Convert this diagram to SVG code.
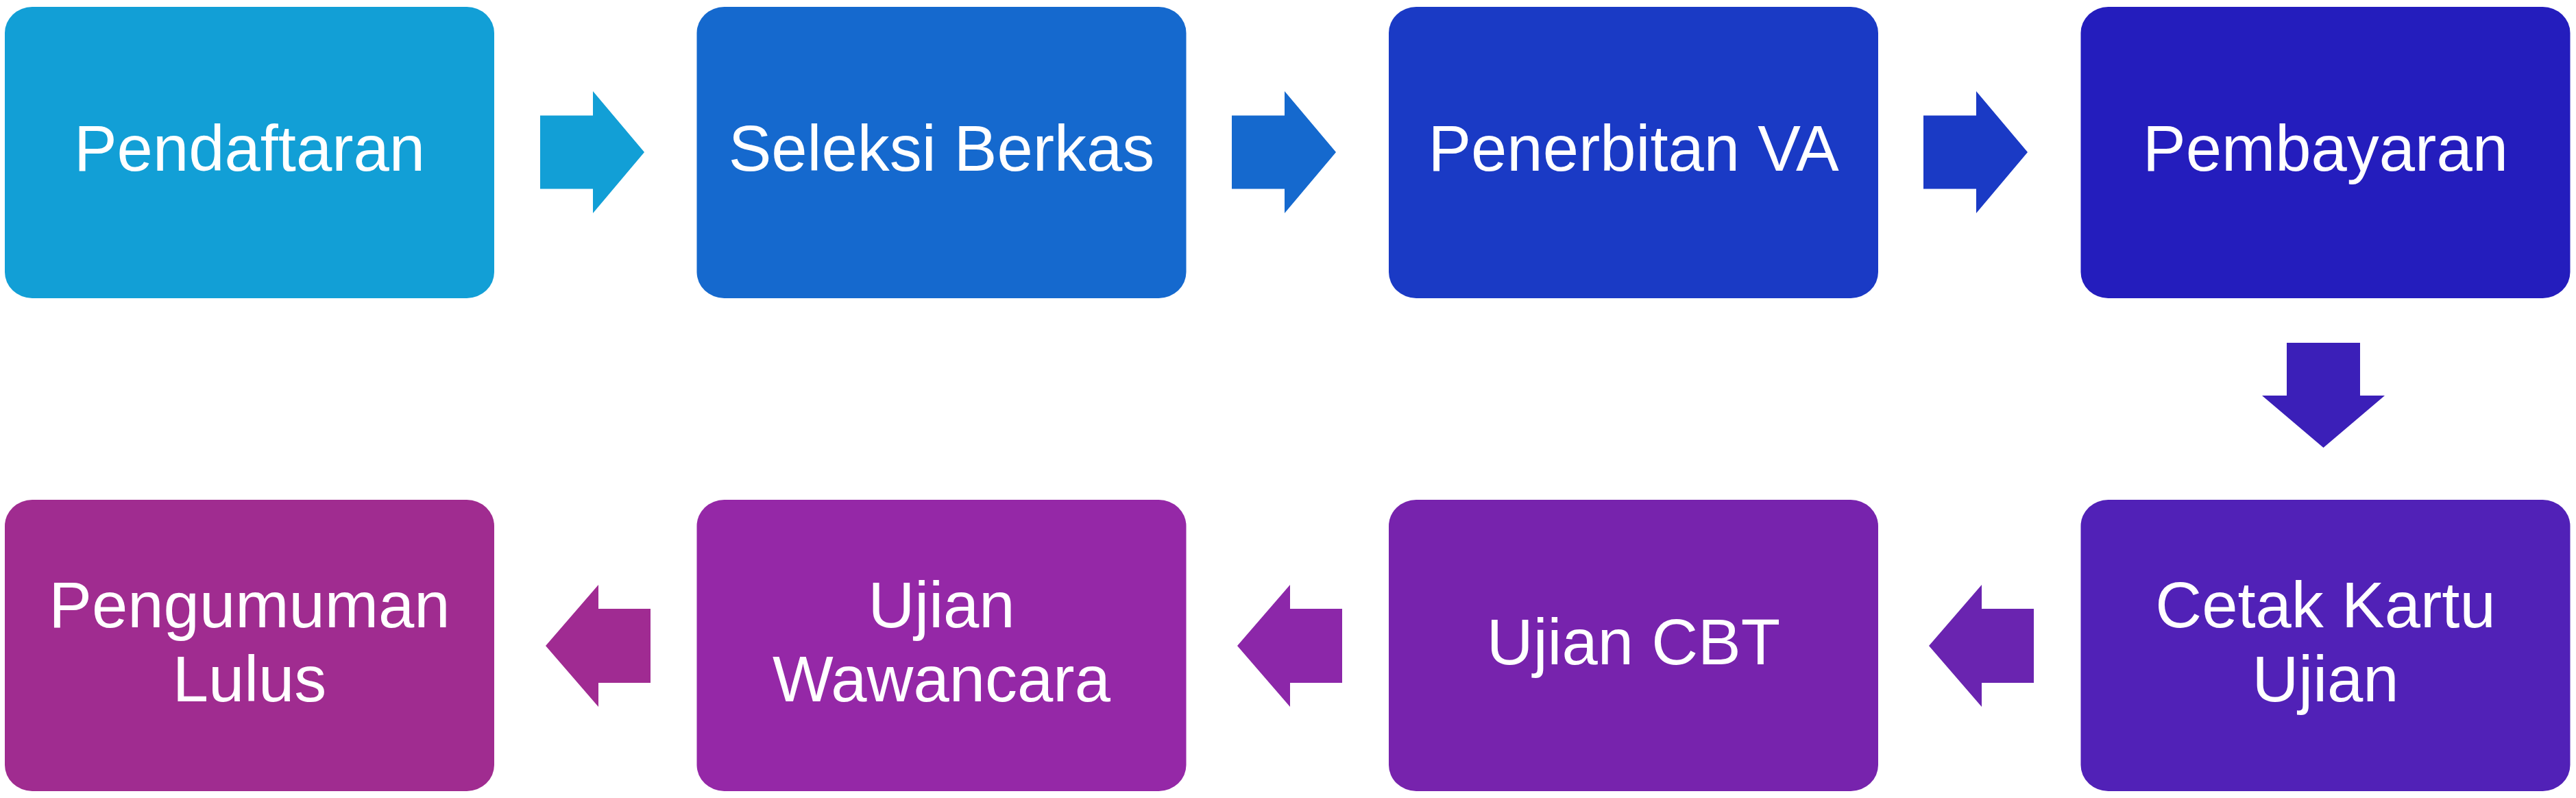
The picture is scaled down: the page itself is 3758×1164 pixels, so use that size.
<svg xmlns="http://www.w3.org/2000/svg" width="3758" height="1164" viewBox="0 0 3758 1164">
<style>
.lbl{font-family:"Liberation Sans",Arial,sans-serif;font-size:94px;fill:#FFFFFF;text-anchor:middle}
</style>
<rect x="0" y="0" width="3758" height="1164" fill="#FFFFFF"/>
<g id="connectors">
<polygon fill="#129FD6" points="788,168.5 865,168.5 865,133 940,222 865,311 865,275.5 788,275.5"/>
<polygon fill="#1569CE" points="1797,168.5 1874,168.5 1874,133 1949,222 1874,311 1874,275.5 1797,275.5"/>
<polygon fill="#1A3AC5" points="2806,168.5 2883,168.5 2883,133 2958,222 2883,311 2883,275.5 2806,275.5"/>
<polygon fill="#3B1FB8" points="3336,500 3443,500 3443,577 3479,577 3389.5,653 3300,577 3336,577"/>
<polygon fill="#6A24B0" points="2967,888 2891,888 2891,853 2814,942 2891,1031 2891,996 2967,996"/>
<polygon fill="#8C27A9" points="1958,888 1882,888 1882,853 1805,942 1882,1031 1882,996 1958,996"/>
<polygon fill="#A02B92" points="949,888 873,888 873,853 796,942 873,1031 873,996 949,996"/>
</g>
<g id="n1"><rect x="7" y="10" width="714" height="425" rx="40" ry="38" fill="#129FD6"/><text class="lbl" x="364" y="249">Pendaftaran</text></g>
<g id="n2"><rect x="1016.5" y="10" width="714" height="425" rx="40" ry="38" fill="#1569CE"/><text class="lbl" x="1373.5" y="249">Seleksi Berkas</text></g>
<g id="n3"><rect x="2026" y="10" width="714" height="425" rx="40" ry="38" fill="#1A3AC5"/><text class="lbl" x="2383" y="249">Penerbitan VA</text></g>
<g id="n4"><rect x="3035.5" y="10" width="714" height="425" rx="40" ry="38" fill="#241DBD"/><text class="lbl" x="3392.5" y="249">Pembayaran</text></g>
<g id="n5"><rect x="3035.5" y="729" width="714" height="425" rx="40" ry="38" fill="#5121B7"/><text class="lbl" x="3392.5" y="915">Cetak Kartu</text><text class="lbl" x="3392.5" y="1023">Ujian</text></g>
<g id="n6"><rect x="2026" y="729" width="714" height="425" rx="40" ry="38" fill="#7723AD"/><text class="lbl" x="2383" y="969">Ujian CBT</text></g>
<g id="n7"><rect x="1016.5" y="729" width="714" height="425" rx="40" ry="38" fill="#9528A7"/><text class="lbl" x="1373.5" y="915">Ujian</text><text class="lbl" x="1373.5" y="1023">Wawancara</text></g>
<g id="n8"><rect x="7" y="729" width="714" height="425" rx="40" ry="38" fill="#A02C90"/><text class="lbl" x="364" y="915">Pengumuman</text><text class="lbl" x="364" y="1023">Lulus</text></g>
</svg>
